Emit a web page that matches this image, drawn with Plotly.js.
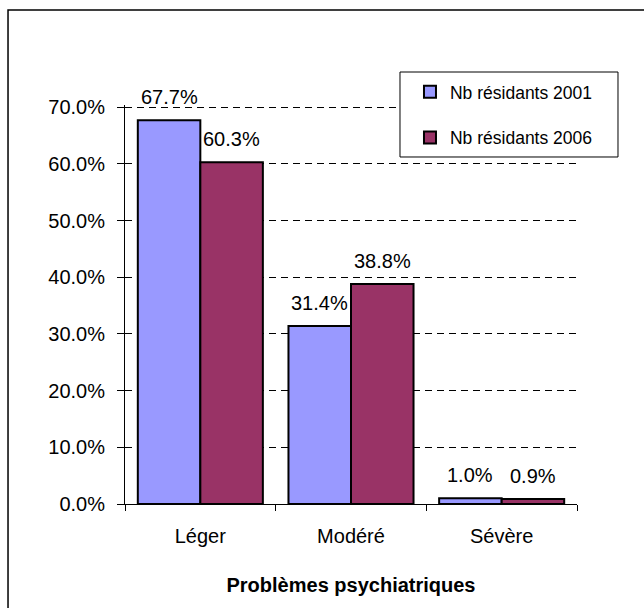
<!DOCTYPE html>
<html>
<head>
<meta charset="utf-8">
<script src="https://cdn.plot.ly/plotly-3.0.1.min.js"></script>
<style>
  html, body { margin: 0; padding: 0; background: #fff; }
  #chart { width: 644px; height: 608px; }
</style>
</head>
<body>
<div id="chart"></div>
<script>
const categories = ['Léger', 'Modéré', 'Sévère'];
const values2001 = [0.677, 0.314, 0.010];
const values2006 = [0.603, 0.388, 0.009];
const seriesNames = ['Nb résidants 2001', 'Nb résidants 2006'];
const seriesColors = ['#9999FF', '#993366'];
const yTickValues = [0, 0.1, 0.2, 0.3, 0.4, 0.5, 0.6, 0.7];
const xTitle = 'Problèmes psychiatriques';

const FONT = 'Liberation Sans, Arial, sans-serif';
const BARGAP = 0.17;
const allSeries = [values2001, values2006];

const traces = allSeries.map((vals, s) => ({
  type: 'bar',
  name: seriesNames[s],
  x: categories,
  y: vals,
  legendgroup: 'g' + s,
  marker: { color: seriesColors[s], line: { color: '#000', width: 2 } },
  hoverinfo: 'skip'
}));

const annotations = [];
allSeries.forEach((vals, s) => {
  const off = (s === 0 ? -1 : 1) * (1 - BARGAP) / 4;
  vals.forEach((v, i) => {
    annotations.push({
      xref: 'x', yref: 'y', x: i + off, y: v,
      text: (v * 100).toFixed(1) + '%',
      showarrow: false, yanchor: 'middle', yshift: 23,
      font: { family: FONT, size: 20, color: '#000' }
    });
  });
});

const layout = {
  width: 644, height: 608,
  margin: { l: 125, r: 67, t: 105, b: 104 },
  paper_bgcolor: '#fff', plot_bgcolor: '#fff',
  font: { family: FONT, color: '#000', size: 20 },
  barmode: 'group',
  bargap: BARGAP,
  bargroupgap: 0,
  showlegend: true,
  legend: {
    x: 0.6305, y: 1.0777, xanchor: 'left', yanchor: 'top',
    bgcolor: 'rgba(0,0,0,0)', borderwidth: 0,
    font: { family: FONT, size: 17.5, color: '#000' },
    traceorder: 'grouped', tracegroupgap: 20
  },
  xaxis: {
    type: 'category',
    showline: true, linecolor: '#000', linewidth: 1,
    ticks: 'outside', tickson: 'boundaries', ticklen: 6, tickcolor: '#000',
    ticklabelstandoff: 14,
    showgrid: false, zeroline: false,
    tickfont: { family: FONT, size: 20, color: '#000' },
    title: { text: '<b>' + xTitle + '</b>', font: { family: FONT, size: 20, color: '#000' }, standoff: 31 }
  },
  yaxis: {
    range: [0, 0.704],
    tickvals: yTickValues,
    tickformat: '.1%',
    showline: true, linecolor: '#000', linewidth: 1,
    ticks: 'outside', ticklen: 7, tickcolor: '#000',
    ticklabelstandoff: 8,
    showgrid: true, gridcolor: '#000', gridwidth: 1, griddash: '7px,5px',
    zeroline: false,
    tickfont: { family: FONT, size: 20, color: '#000' }
  },
  shapes: [
    { type: 'rect', xref: 'paper', yref: 'paper',
      x0: -0.2588, x1: 1.35, y0: -0.45, y1: 1.2381,
      line: { color: '#000', width: 1.5 }, fillcolor: 'rgba(0,0,0,0)', layer: 'below' },
    { type: 'rect', xref: 'paper', yref: 'paper',
      x0: 0.6084, x1: 1.0907, y0: 0.8697, y1: 1.0827,
      line: { color: '#000', width: 1 }, fillcolor: '#fff', layer: 'above' }
  ],
  annotations: annotations
};

Plotly.newPlot('chart', traces, layout, { staticPlot: true, displayModeBar: false });
</script>
</body>
</html>
